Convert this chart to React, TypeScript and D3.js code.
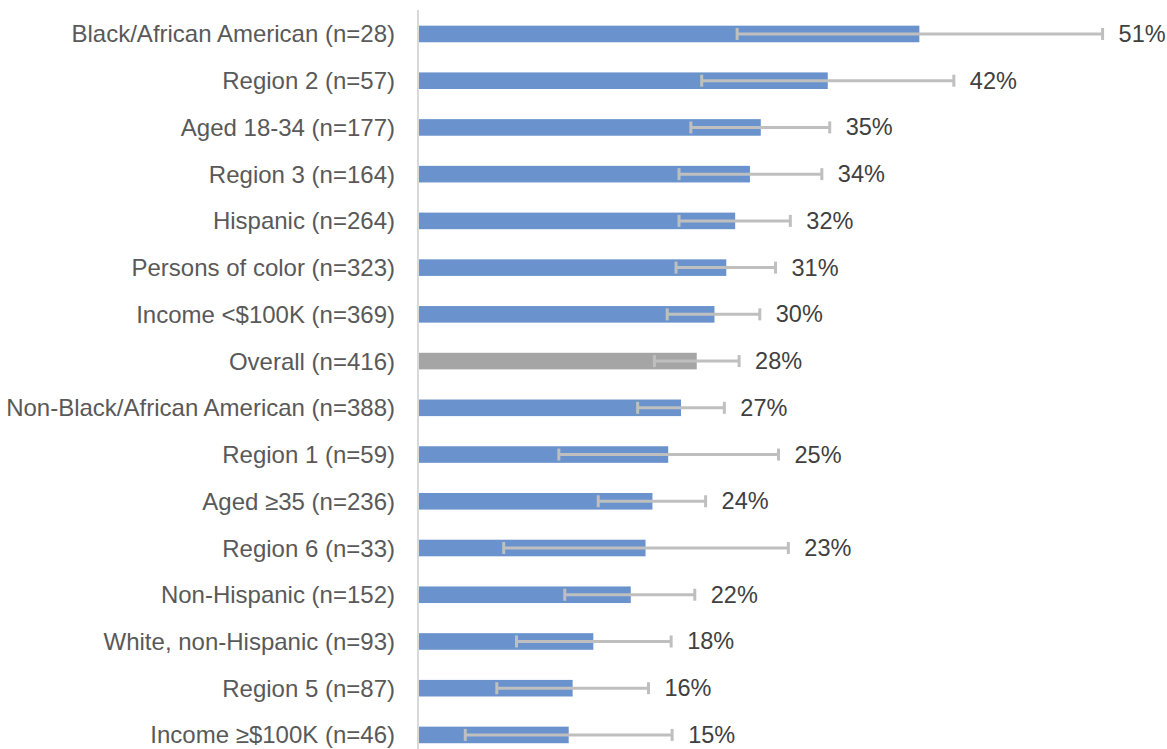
import React, { useEffect, useRef } from 'react';
import * as d3 from 'd3';

const categories = [
  'Black/African American (n=28)',
  'Region 2 (n=57)',
  'Aged 18-34 (n=177)',
  'Region 3 (n=164)',
  'Hispanic (n=264)',
  'Persons of color (n=323)',
  'Income <$100K (n=369)',
  'Overall (n=416)',
  'Non-Black/African American (n=388)',
  'Region 1 (n=59)',
  'Aged ≥35 (n=236)',
  'Region 6 (n=33)',
  'Non-Hispanic (n=152)',
  'White, non-Hispanic (n=93)',
  'Region 5 (n=87)',
  'Income ≥$100K (n=46)',
];

// percent values
const values = [50.9, 41.6, 34.8, 33.7, 32.2, 31.3, 30.1, 28.3, 26.7, 25.4, 23.8, 23.1, 21.6, 17.8, 15.7, 15.3];
const lower = [32.4, 28.8, 27.7, 26.5, 26.5, 26.2, 25.3, 24.0, 22.3, 14.3, 18.3, 8.7, 14.9, 10.0, 8.0, 4.8];
const upper = [69.5, 54.4, 41.8, 41.0, 37.8, 36.3, 34.7, 32.6, 31.1, 36.6, 29.2, 37.6, 28.1, 25.7, 23.4, 25.8];

const highlight = 'Overall (n=416)';

export default function App() {
  const ref = useRef<SVGSVGElement>(null);

  useEffect(() => {
    const width = 1167;
    const height = 749;
    const svg = d3.select(ref.current);
    svg.selectAll('*').remove();

    const x0 = 418;
    const x = d3.scaleLinear().domain([0, 70]).range([x0, x0 + 70 * 9.85]);
    const y = d3.scaleBand<string>()
      .domain(categories)
      .range([10.6, 758.3])
      .paddingInner(0.645)
      .paddingOuter(0.3225);

    const data = categories.map((c, i) => ({ c, v: values[i], lo: lower[i], hi: upper[i] }));
    const font = '"Liberation Sans", Arial, sans-serif';

    // bars
    svg.append('g')
      .selectAll('rect')
      .data(data)
      .enter()
      .append('rect')
      .attr('x', x(0) + 1)
      .attr('y', d => y(d.c)!)
      .attr('height', y.bandwidth())
      .attr('width', d => x(d.v) - x(0) - 1)
      .attr('fill', d => (d.c === highlight ? '#A5A5A5' : '#6A93CD'));

    // error bars
    const err = svg.append('g')
      .attr('stroke', '#BFBFBF')
      .attr('stroke-width', 3)
      .selectAll('g')
      .data(data)
      .enter()
      .append('g')
      .attr('transform', d => `translate(0,${y(d.c)! + y.bandwidth() / 2})`);
    err.append('line').attr('x1', d => x(d.lo)).attr('x2', d => x(d.hi)).attr('y1', 0).attr('y2', 0);
    err.append('line').attr('x1', d => x(d.lo)).attr('x2', d => x(d.lo)).attr('y1', -6).attr('y2', 6);
    err.append('line').attr('x1', d => x(d.hi)).attr('x2', d => x(d.hi)).attr('y1', -6).attr('y2', 6);

    // value labels
    svg.append('g')
      .selectAll('text')
      .data(data)
      .enter()
      .append('text')
      .attr('x', d => x(d.hi) + 16)
      .attr('y', d => y(d.c)! + y.bandwidth() / 2)
      .attr('dominant-baseline', 'central')
      .style('font-family', font)
      .style('font-size', '23.5px')
      .style('fill', '#404040')
      .text(d => d3.format('.0f')(d.v) + '%');

    // category labels
    svg.append('g')
      .selectAll('text')
      .data(data)
      .enter()
      .append('text')
      .attr('x', 395)
      .attr('y', d => y(d.c)! + y.bandwidth() / 2)
      .attr('dominant-baseline', 'central')
      .attr('text-anchor', 'end')
      .style('font-family', font)
      .style('font-size', '24px')
      .style('fill', '#595959')
      .text(d => d.c);

    // vertical axis line
    svg.append('line')
      .attr('x1', x0)
      .attr('x2', x0)
      .attr('y1', 10)
      .attr('y2', height)
      .attr('stroke', '#D9D9D9')
      .attr('stroke-width', 2);

    svg.attr('width', width).attr('height', height);
  }, []);

  return (
    <div style={{ position: 'absolute', left: 0, top: 0, background: '#fff' }}>
      <svg ref={ref} width={1167} height={749} style={{ display: 'block' }} />
    </div>
  );
}
